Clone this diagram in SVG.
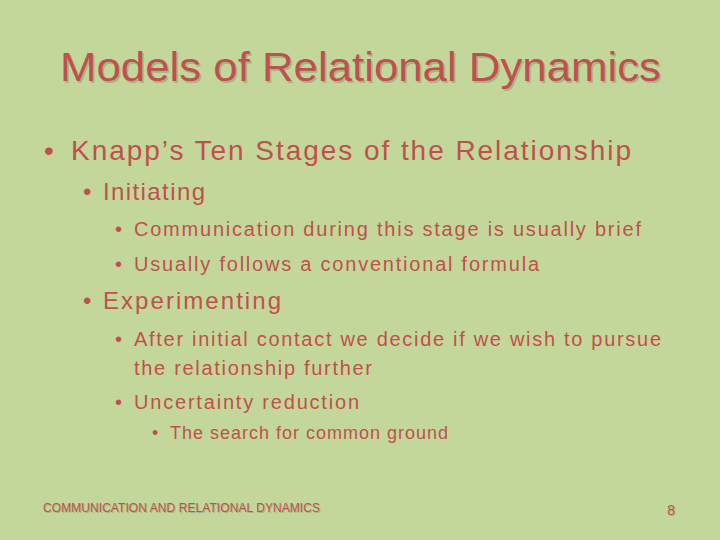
<svg xmlns="http://www.w3.org/2000/svg" width="720" height="540" viewBox="0 0 720 540">
<style>
text{font-family:'Liberation Sans',Arial,Helvetica,sans-serif;fill:#c0504d}
.sh{fill:#9a9a7a;opacity:0.6}
</style>
<rect width="720" height="540" fill="#c4d79b"/>
<text class="sh" x="61.5" y="82.5" font-size="40" textLength="601" lengthAdjust="spacingAndGlyphs">Models of Relational Dynamics</text>
<text x="60" y="81" font-size="40" textLength="601" lengthAdjust="spacingAndGlyphs">Models of Relational Dynamics</text>
<g font-size="28">
<text x="44" y="160">•</text><text x="71" y="160" textLength="560">Knapp’s Ten Stages of the Relationship</text>
</g>
<g font-size="24">
<text x="83" y="200">•</text><text x="103" y="200" textLength="102">Initiating</text>
<text x="83" y="309">•</text><text x="103" y="309" textLength="178">Experimenting</text>
</g>
<g font-size="20">
<text x="115" y="236">•</text><text x="134" y="236" textLength="507">Communication during this stage is usually brief</text>
<text x="115" y="271">•</text><text x="134" y="271" textLength="405">Usually follows a conventional formula</text>
<text x="115" y="346">•</text><text x="134" y="346" textLength="527">After initial contact we decide if we wish to pursue</text>
<text x="134" y="375" textLength="238">the relationship further</text>
<text x="115" y="409">•</text><text x="134" y="409" textLength="225">Uncertainty reduction</text>
</g>
<g font-size="18">
<text x="152" y="439">•</text><text x="170" y="439" textLength="278">The search for common ground</text>
</g>
<text class="sh" x="44" y="513" font-size="12" textLength="277">COMMUNICATION AND RELATIONAL DYNAMICS</text>
<text x="43" y="512" font-size="12" textLength="277">COMMUNICATION AND RELATIONAL DYNAMICS</text>
<text class="sh" x="676" y="516" font-size="14" text-anchor="end">8</text>
<text x="675" y="515" font-size="14" text-anchor="end">8</text>
</svg>
